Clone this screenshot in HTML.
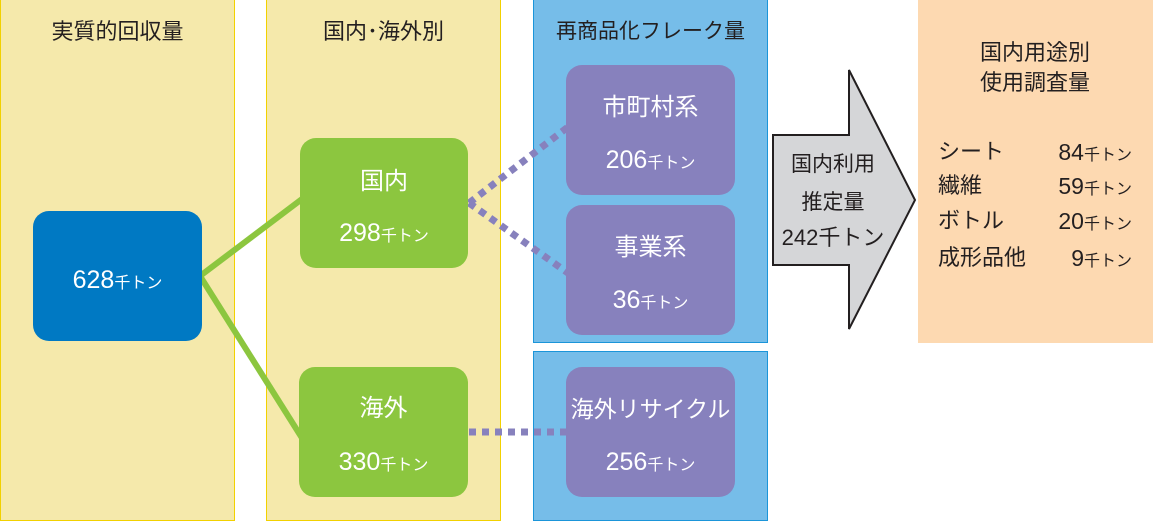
<!DOCTYPE html>
<html><head><meta charset="utf-8">
<style>
*{margin:0;padding:0;box-sizing:border-box}
html,body{width:1153px;height:521px;overflow:hidden;background:#fff}
body{position:relative;font-family:"Liberation Sans","Noto Sans CJK JP",sans-serif;color:#231f20}
.col{position:absolute;border:1px solid #f2d100;background:#f5e9ab}
.bcol{position:absolute;border:1px solid #1b95d9;background:#76bde9}
.box{position:absolute;border-radius:16px}
.t{position:absolute;text-align:center;white-space:nowrap;height:30px;line-height:30px}
.w{color:#fff}
.lbl{font-size:24px}
.num{font-size:25px}
.num small{font-size:16px}
.ttl{font-size:22px}
svg{position:absolute;left:0;top:0}
</style></head><body>

<div class="col" style="left:0;top:-1px;width:235px;height:522px"></div>
<div class="col" style="left:266px;top:-1px;width:235px;height:522px"></div>
<div class="bcol" style="left:533px;top:-1px;width:235px;height:344px"></div>
<div class="bcol" style="left:533px;top:351px;width:235px;height:170px"></div>
<div style="position:absolute;left:918px;top:0;width:235px;height:343px;background:#fdd9b1"></div>

<div class="t ttl" style="left:0;width:235px;top:17px">実質的回収量</div>
<div class="t ttl" style="left:266px;width:235px;top:17px">国内･海外別</div>
<div class="t ttl" style="left:533px;width:235px;top:17px;font-size:21px">再商品化フレーク量</div>

<svg width="1153" height="521">
  <g stroke="#8cc63f" stroke-width="6" fill="none">
    <line x1="200" y1="276" x2="302" y2="199"/>
    <line x1="200" y1="276" x2="302" y2="438"/>
  </g>
  <g stroke="#8781bd" stroke-width="7" fill="none" stroke-dasharray="7 6">
    <line x1="469" y1="203" x2="568" y2="127"/>
    <line x1="469" y1="203" x2="568" y2="273"/>
    <line x1="469" y1="432" x2="568" y2="432"/>
  </g>
  <polygon points="773,135 849,135 849,70 915,200 849,329 849,265 773,265" fill="#d5d6d8" stroke="#231f20" stroke-width="2" stroke-linejoin="miter"/>
</svg>

<div class="box" style="left:33px;top:211px;width:169px;height:130px;background:#0079c3"></div>
<div class="t w num" style="left:33px;width:169px;top:265px">628<small>千トン</small></div>

<div class="box" style="left:300px;top:138px;width:168px;height:130px;background:#8cc63f"></div>
<div class="t w lbl" style="left:300px;width:168px;top:167px">国内</div>
<div class="t w num" style="left:300px;width:168px;top:218px">298<small>千トン</small></div>

<div class="box" style="left:299px;top:367px;width:169px;height:130px;background:#8cc63f"></div>
<div class="t w lbl" style="left:299px;width:169px;top:394px">海外</div>
<div class="t w num" style="left:299px;width:169px;top:447px">330<small>千トン</small></div>

<div class="box" style="left:566px;top:65px;width:169px;height:130px;background:#8781bd"></div>
<div class="t w lbl" style="left:566px;width:169px;top:93px">市町村系</div>
<div class="t w num" style="left:566px;width:169px;top:145px">206<small>千トン</small></div>

<div class="box" style="left:566px;top:205px;width:169px;height:130px;background:#8781bd"></div>
<div class="t w lbl" style="left:566px;width:169px;top:233px">事業系</div>
<div class="t w num" style="left:566px;width:169px;top:285px">36<small>千トン</small></div>

<div class="box" style="left:566px;top:367px;width:169px;height:130px;background:#8781bd"></div>
<div class="t w" style="left:556px;width:189px;top:394px;font-size:23px">海外リサイクル</div>
<div class="t w num" style="left:566px;width:169px;top:447px">256<small>千トン</small></div>

<div class="t" style="left:783px;width:100px;top:150px;font-size:21px">国内利用</div>
<div class="t" style="left:783px;width:100px;top:188px;font-size:21px">推定量</div>
<div class="t" style="left:773px;width:120px;top:223px;font-size:22px">242千トン</div>

<div class="t" style="left:935px;width:200px;top:38px;font-size:22px">国内用途別</div>
<div class="t" style="left:935px;width:200px;top:68px;font-size:22px">使用調査量</div>

<div class="t" style="left:938px;top:137px;font-size:22px;text-align:left">シート</div>
<div class="t" style="left:938px;top:171px;font-size:22px;text-align:left">繊維</div>
<div class="t" style="left:938px;top:206px;font-size:22px;text-align:left">ボトル</div>
<div class="t" style="left:938px;top:243px;font-size:22px;text-align:left">成形品他</div>

<div class="t" style="left:1030px;width:102px;top:137px;font-size:23px;text-align:right">84<span style="font-size:16px">千トン</span></div>
<div class="t" style="left:1030px;width:102px;top:171px;font-size:23px;text-align:right">59<span style="font-size:16px">千トン</span></div>
<div class="t" style="left:1030px;width:102px;top:206px;font-size:23px;text-align:right">20<span style="font-size:16px">千トン</span></div>
<div class="t" style="left:1030px;width:102px;top:243px;font-size:23px;text-align:right">9<span style="font-size:16px">千トン</span></div>

</body></html>
